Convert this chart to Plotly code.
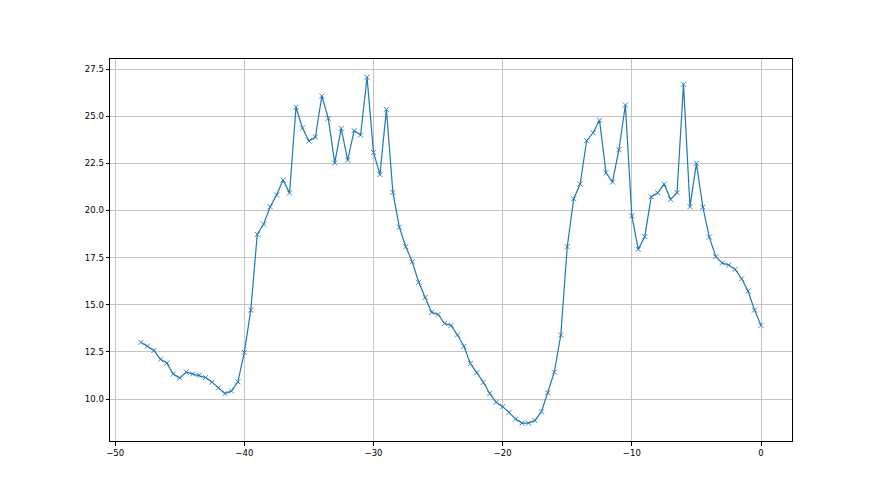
import plotly.graph_objects as go

x_vals = [-48.0, -47.5, -47.0, -46.5, -46.0, -45.5, -45.0, -44.5, -44.0, -43.5,
          -43.0, -42.5, -42.0, -41.5, -41.0, -40.5, -40.0, -39.5, -39.0, -38.5,
          -38.0, -37.5, -37.0, -36.5, -36.0, -35.5, -35.0, -34.5, -34.0, -33.5,
          -33.0, -32.5, -32.0, -31.5, -31.0, -30.5, -30.0, -29.5, -29.0, -28.5,
          -28.0, -27.5, -27.0, -26.5, -26.0, -25.5, -25.0, -24.5, -24.0, -23.5,
          -23.0, -22.5, -22.0, -21.5, -21.0, -20.5, -20.0, -19.5, -19.0, -18.5,
          -18.0, -17.5, -17.0, -16.5, -16.0, -15.5, -15.0, -14.5, -14.0, -13.5,
          -13.0, -12.5, -12.0, -11.5, -11.0, -10.5, -10.0, -9.5, -9.0, -8.5,
          -8.0, -7.5, -7.0, -6.5, -6.0, -5.5, -5.0, -4.5, -4.0, -3.5,
          -3.0, -2.5, -2.0, -1.5, -1.0, -0.5, 0.0]

y_vals = [13.01, 12.81, 12.58, 12.11, 11.91, 11.33, 11.12, 11.43, 11.33, 11.26,
          11.14, 10.90, 10.60, 10.30, 10.43, 10.92, 12.48, 14.72, 18.73, 19.28,
          20.20, 20.82, 21.61, 20.93, 25.47, 24.37, 23.68, 23.89, 26.07, 24.88,
          22.52, 24.35, 22.67, 24.23, 24.00, 27.06, 23.08, 21.90, 25.36, 20.96,
          19.12, 18.08, 17.28, 16.19, 15.39, 14.60, 14.49, 14.01, 13.91, 13.40,
          12.80, 11.89, 11.40, 10.89, 10.30, 9.83, 9.60, 9.30, 8.94, 8.73,
          8.73, 8.87, 9.33, 10.34, 11.43, 13.40, 18.08, 20.62, 21.40, 23.70,
          24.12, 24.78, 22.00, 21.51, 23.22, 25.59, 19.71, 17.94, 18.61, 20.73,
          20.94, 21.40, 20.59, 20.94, 26.69, 20.20, 22.50, 20.18, 18.59, 17.55,
          17.21, 17.11, 16.88, 16.38, 15.73, 14.72, 13.91]

x_ticks = [-50, -40, -30, -20, -10, 0]
y_ticks = [10.0, 12.5, 15.0, 17.5, 20.0, 22.5, 25.0, 27.5]

fig = go.Figure()
fig.add_trace(go.Scatter(
    x=x_vals, y=y_vals, mode="lines+markers",
    line=dict(color="#1f77b4", width=1.2),
    marker=dict(symbol="x-thin", size=5, color="#1f77b4",
                line=dict(color="#1f77b4", width=0.9)),
    showlegend=False,
))

axis_common = dict(
    showline=True, linecolor="black", linewidth=1, mirror=True,
    ticks="outside", ticklen=3.5, tickwidth=0.8, tickcolor="black",
    showgrid=True, gridcolor="#c4c4c4", gridwidth=0.8,
    zeroline=False,
    tickfont=dict(family="DejaVu Sans", size=8.5, color="black"),
)

fig.update_layout(
    width=880, height=495,
    margin=dict(l=102, r=96, t=51, b=62),
    paper_bgcolor="white", plot_bgcolor="white",
    xaxis=dict(range=[-50.4, 2.4], tickvals=x_ticks,
               ticktext=[str(v).replace("-", "\u2212") for v in x_ticks],
               **axis_common),
    yaxis=dict(range=[7.78, 28.03], tickvals=y_ticks,
               ticktext=[f"{v:.1f}" for v in y_ticks],
               **axis_common),
)

fig.write_html("out.html")
